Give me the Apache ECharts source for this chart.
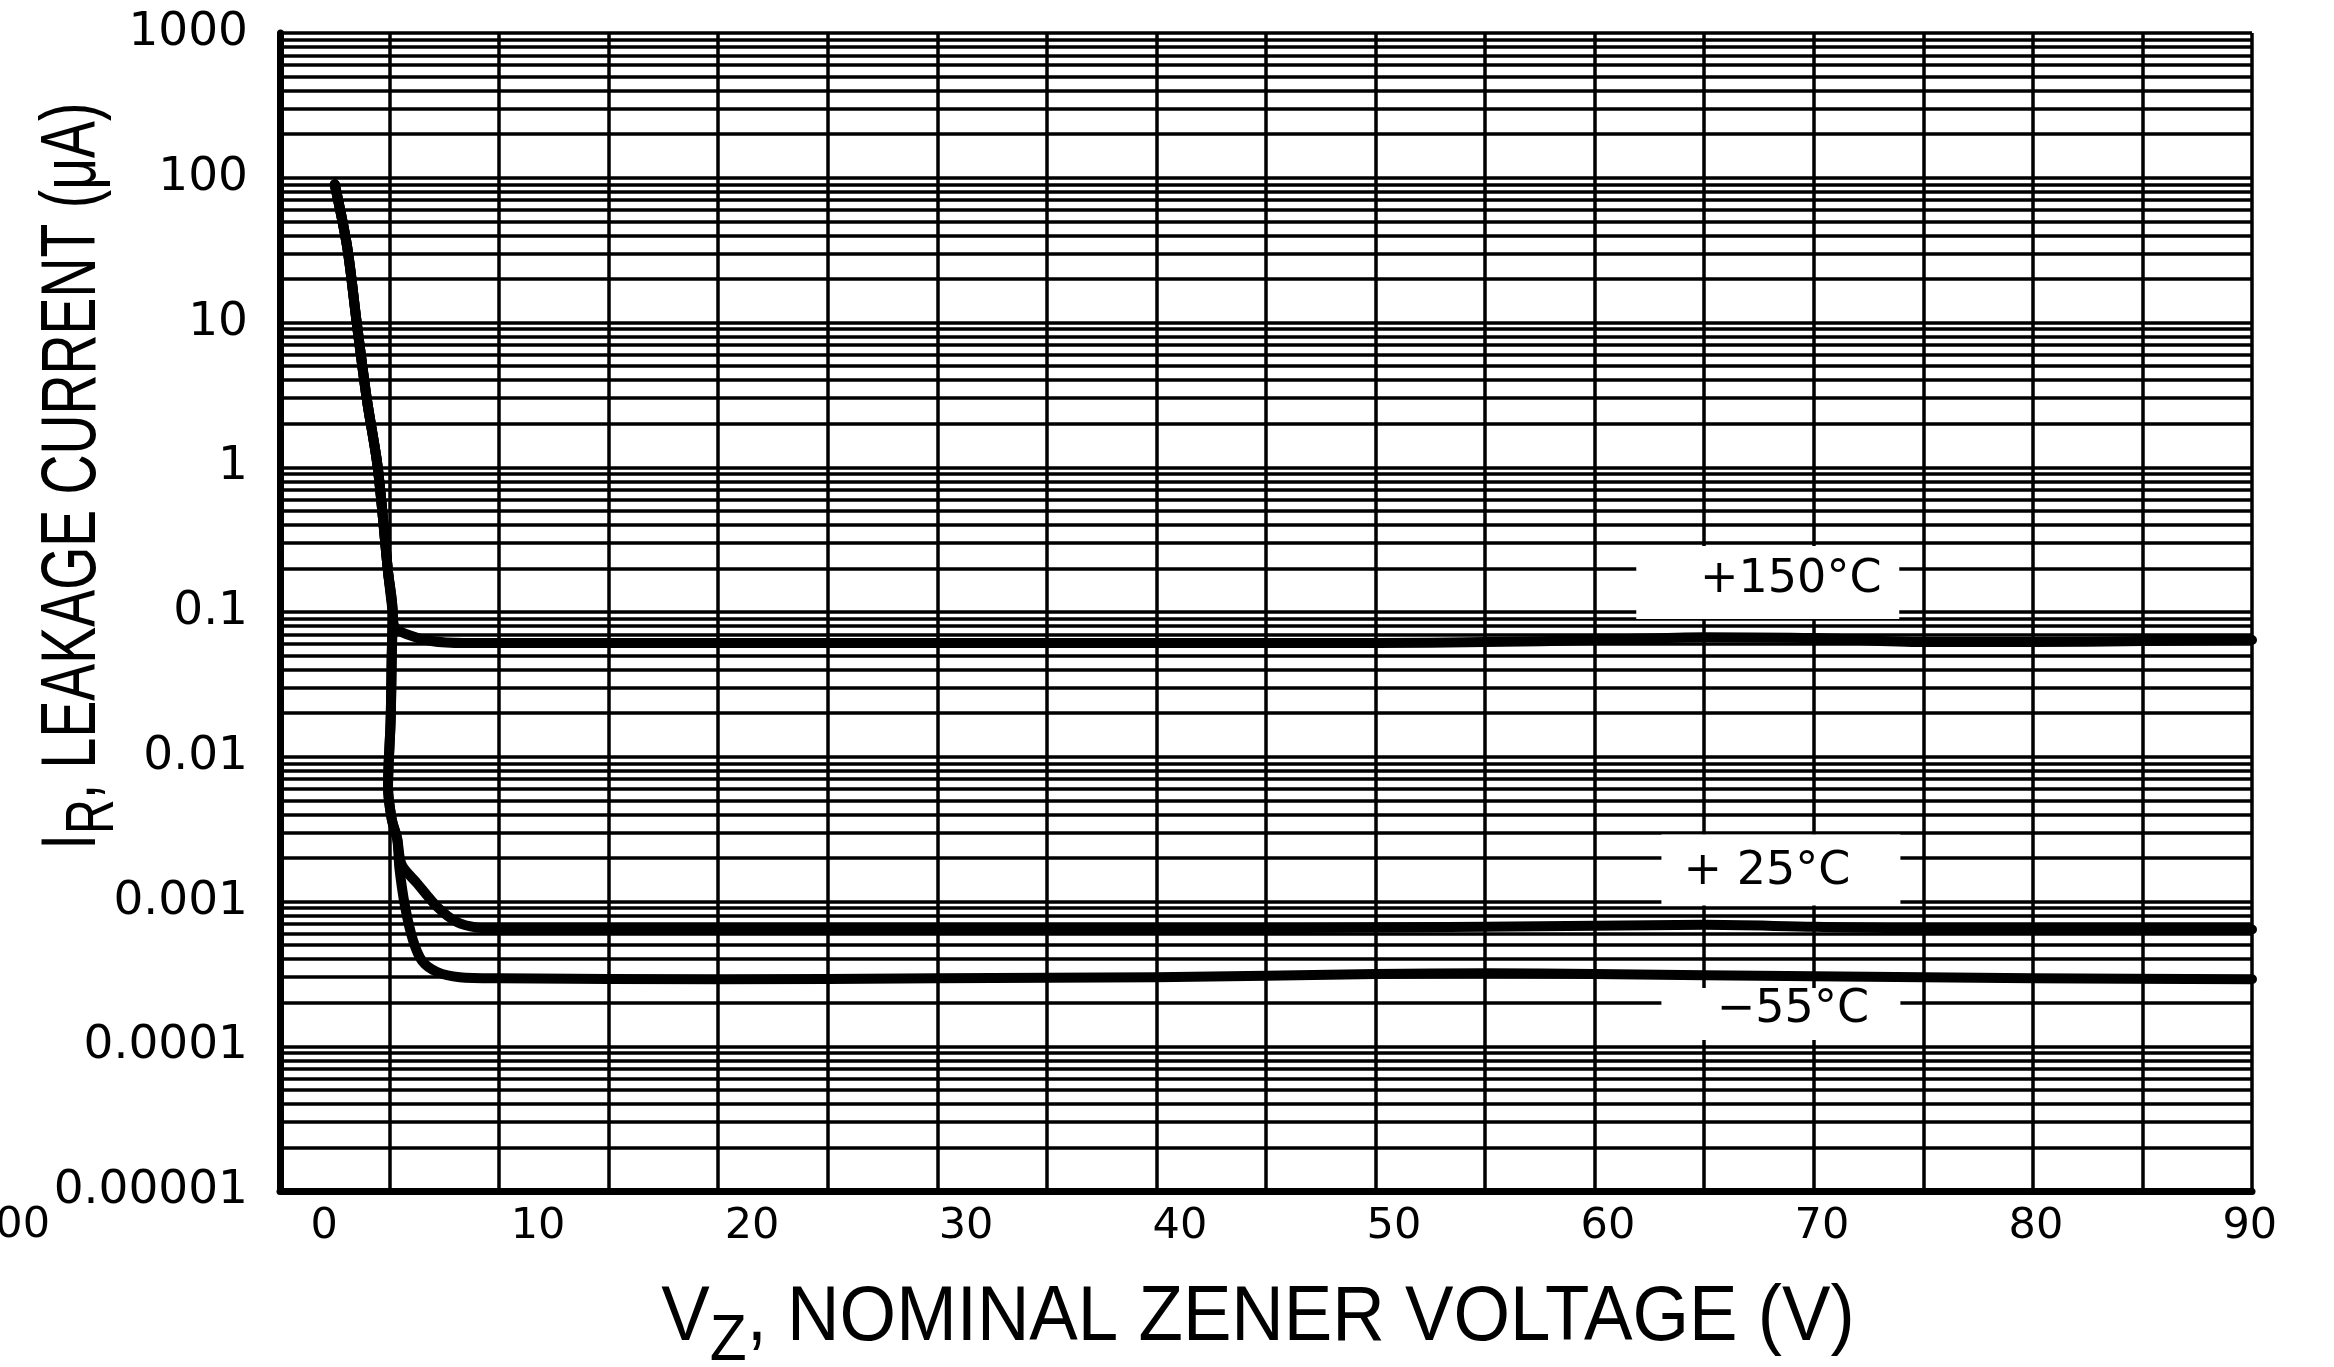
<!DOCTYPE html>
<html>
<head>
<meta charset="utf-8">
<script src="https://cdn.jsdelivr.net/npm/echarts@6/dist/echarts.min.js"></script>
<style>
html,body{margin:0;padding:0;background:#fff;}
#chart{width:2334px;height:1367px;}
</style>
</head>
<body>
<div id="chart"></div>
<script>
// ---------------- data ----------------
// +150 °C curve
const vz150 = [2.5, 3.07, 3.5, 3.97, 4.46, 4.93, 5.14, 5.22, 5.8, 6.9, 8.4, 10, 20, 30, 40, 50, 55, 60, 65, 70, 75, 80, 85, 90];
const ir150 = [90, 33, 10, 2.9, 1.0, 0.19, 0.1, 0.08, 0.07, 0.063, 0.061, 0.061, 0.061, 0.061, 0.061, 0.061, 0.062, 0.064, 0.067, 0.066, 0.062, 0.062, 0.063, 0.064];
// +25 °C curve
const vz25 = [2.5, 3.07, 3.5, 3.97, 4.46, 4.93, 5.14, 5.1, 5.05, 4.93, 5.1, 5.35, 5.55, 6.25, 7.17, 8.08, 9.0, 10, 20, 30, 40, 50, 60, 65, 70, 80, 90];
const ir25 = [90, 33, 10, 2.9, 1.0, 0.19, 0.1, 0.05, 0.018, 0.0062, 0.0037, 0.0027, 0.0018, 0.00134, 0.00092, 0.00072, 0.00066, 0.000645, 0.000635, 0.00064, 0.00065, 0.00066, 0.00068, 0.00069, 0.00067, 0.00064, 0.00064];
// -55 °C curve
const vzm55 = [2.5, 3.07, 3.5, 3.97, 4.46, 4.93, 5.14, 5.1, 5.05, 4.93, 5.1, 5.35, 5.45, 5.71, 6.07, 6.48, 7.17, 8.2, 10, 20, 30, 40, 50, 55, 60, 70, 80, 90];
const irm55 = [90, 33, 10, 2.9, 1.0, 0.19, 0.1, 0.05, 0.018, 0.0062, 0.0037, 0.0027, 0.0017, 0.00092, 0.00054, 0.00039, 0.000326, 0.0003, 0.000295, 0.00029, 0.000295, 0.0003, 0.000315, 0.00032, 0.000315, 0.000305, 0.000295, 0.00029];

const curveNames = ['+150°C', '+ 25°C', '−55°C'];
const yTickLabels = ['0.00001', '0.0001', '0.001', '0.01', '0.1', '1', '10', '100', '1000'];
const yDecadeExponents = [-5, -4, -3, -2, -1, 0, 1, 2];
const minorMantissas = [2, 3, 4, 5, 6, 7, 8, 9];
const xTickLabels = [0, 10, 20, 30, 40, 50, 60, 70, 80, 90];

// ---------------- layout / style (not data) ----------------
const curveLabelLayout = [
  { anchor: [67.9, 0.16], box: [263, 73], offset: [23, -2] },
  { anchor: [68.5, 0.00165], box: [239, 71], offset: [-14, 2] },
  { anchor: [68.5, 0.000167], box: [239, 52], offset: [12, -4] }
];
const GRID = { left: 280, right: 82, top: 33, bottom: 176 };
const TICK_FONT = 'DejaVu Sans';
const TITLE_FONT = 'Liberation Sans';
const GRID_W = 3.5;

// ---------------- build ----------------
function zip(xs, ys) { return xs.map((x, i) => [x, ys[i]]); }
const minorGridValues = [];
yDecadeExponents.forEach(e => minorMantissas.forEach(m => minorGridValues.push(Number((m * Math.pow(10, e)).toPrecision(6)))));

const curves = [zip(vz150, ir150), zip(vz25, ir25), zip(vzm55, irm55)];

const chart = echarts.init(document.getElementById('chart'), null, { renderer: 'canvas' });

const curveSeries = curves.map((d, i) => ({
  name: curveNames[i],
  type: 'line',
  data: d,
  xAxisIndex: 0,
  yAxisIndex: 0,
  showSymbol: false,
  symbol: 'none',
  smooth: 0.3,
  clip: false,
  z: 3,
  lineStyle: { color: '#000', width: 10, cap: 'round', join: 'round' },
  markPoint: {
    z: 4,
    silent: true,
    animation: false,
    data: [{
      coord: curveLabelLayout[i].anchor,
      symbol: 'rect',
      symbolSize: curveLabelLayout[i].box,
      itemStyle: { color: '#fff', borderWidth: 0 },
      label: {
        show: true,
        position: 'inside',
        formatter: curveNames[i],
        offset: curveLabelLayout[i].offset,
        color: '#000',
        fontSize: 46,
        fontFamily: TICK_FONT
      }
    }]
  }
}));

const gridSeries = {
  type: 'line',
  data: [],
  xAxisIndex: 0,
  yAxisIndex: 0,
  silent: true,
  markLine: {
    z: 1,
    silent: true,
    animation: false,
    precision: 10,
    symbol: ['none', 'none'],
    label: { show: false },
    lineStyle: { color: '#000', width: GRID_W, type: 'solid' },
    emphasis: { disabled: true },
    data: minorGridValues.map(v => ({ yAxis: v }))
  }
};

const option = {
  backgroundColor: '#fff',
  animation: false,
  grid: Object.assign({ containLabel: false, outerBoundsMode: 'none' }, GRID),
  xAxis: [
    {
      type: 'value', min: 0, max: 90, interval: 5, position: 'bottom',
      axisLine: { show: true, onZero: false, lineStyle: { color: '#000', width: 7 } },
      axisTick: { show: false },
      axisLabel: { show: false },
      splitLine: { show: true, lineStyle: { color: '#000', width: GRID_W } }
    },
    {
      type: 'value', min: -2.06, max: 90.1, position: 'bottom',
      axisLine: { show: false },
      axisTick: { show: false },
      splitLine: { show: false },
      axisLabel: {
        show: true,
        customValues: xTickLabels,
        formatter: v => String(v),
        color: '#000',
        fontSize: 43,
        fontFamily: TICK_FONT,
        margin: 14
      }
    }
  ],
  yAxis: {
    type: 'log', logBase: 10, min: 0.00001, max: 1000, interval: 1,
    axisLine: { show: true, lineStyle: { color: '#000', width: 7 } },
    axisTick: { show: false },
    splitLine: { show: true, lineStyle: { color: '#000', width: GRID_W } },
    axisLabel: {
      color: '#000',
      fontSize: 47,
      fontFamily: TICK_FONT,
      margin: 32,
      formatter: v => {
        const e = Math.round(Math.log10(v));
        return yTickLabels[e + 5] || '';
      }
    }
  },
  graphic: [
    {
      type: 'text',
      x: 73, y: 476,
      rotation: Math.PI / 2,
      scaleX: 0.71,
      silent: true,
      style: {
        text: '{m|I}{s|R}{m|, LEAKAGE CURRENT (μA)}',
        align: 'center',
        verticalAlign: 'middle',
        fill: '#000',
        rich: {
          m: { fontSize: 78, fontFamily: TITLE_FONT, lineHeight: 110, verticalAlign: 'middle', fill: '#000' },
          s: { fontSize: 68, fontFamily: TITLE_FONT, lineHeight: 76, verticalAlign: 'bottom', fill: '#000' }
        }
      }
    },
    {
      type: 'text',
      x: 1258, y: 1319,
      scaleX: 0.944,
      silent: true,
      style: {
        text: '{m|V}{s|Z}{m|, NOMINAL ZENER VOLTAGE (V)}',
        align: 'center',
        verticalAlign: 'middle',
        fill: '#000',
        rich: {
          m: { fontSize: 77, fontFamily: TITLE_FONT, lineHeight: 110, verticalAlign: 'middle', fill: '#000' },
          s: { fontSize: 64, fontFamily: TITLE_FONT, lineHeight: 76, verticalAlign: 'bottom', fill: '#000' }
        }
      }
    },
    {
      type: 'text',
      x: 50, y: 1226,
      silent: true,
      style: {
        text: '00',
        align: 'right',
        verticalAlign: 'middle',
        fontSize: 43,
        fontFamily: TICK_FONT,
        fill: '#000'
      }
    }
  ],
  series: [gridSeries].concat(curveSeries)
};

chart.setOption(option);
</script>
</body>
</html>
